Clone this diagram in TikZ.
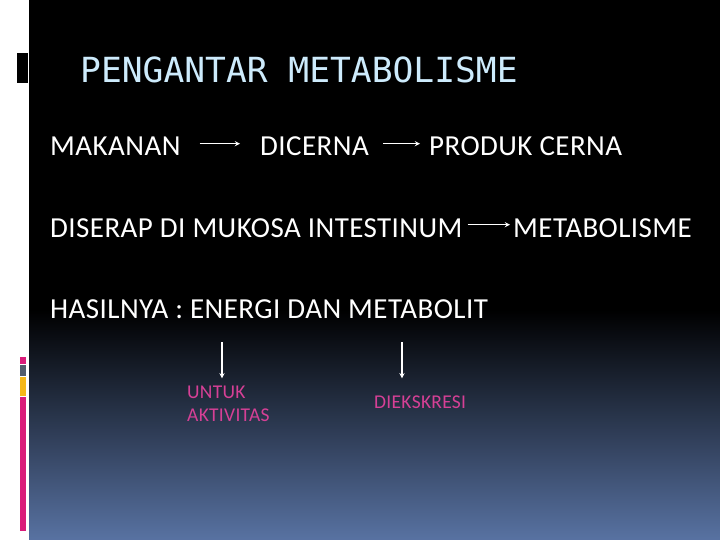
\documentclass[tikz,border=0pt]{standalone}
\usepackage{fontspec}
\setmainfont{Carlito}
\newfontfamily\bodyfont[LetterSpace=1.5]{Carlito}
\newfontfamily\titlefont{DejaVu Sans Mono}
\usetikzlibrary{calc}

\definecolor{slideblue}{RGB}{88,114,162}
\definecolor{titleblue}{RGB}{205,235,252}
\definecolor{barpink}{RGB}{218,28,122}
\definecolor{bargrey}{RGB}{82,92,108}
\definecolor{baryellow}{RGB}{246,184,24}
\definecolor{textpink}{RGB}{214,64,150}

\tikzset{
    word/.style={anchor=base west,inner sep=0pt,text=white,font=\bodyfont\fontsize{29}{34}\selectfont},
    small/.style={anchor=base west,inner sep=0pt,text=textpink,font=\bodyfont\fontsize{19.5}{23}\selectfont},
    arr/.style={white,line width=1.3pt,->,>=stealth}
}

\begin{document}
\begin{tikzpicture}[x=1pt,y=-1pt]
    \useasboundingbox (0,0) rectangle (720,540);
    \fill[white] (0,0) rectangle (29,540);
    \fill[black] (29,0) rectangle (720,310);
    \shade[top color=black,bottom color=slideblue] (29,310) rectangle (720,540);

    \fill[black] (17,53) rectangle (28,83);
    \fill[barpink] (20,357) rectangle (26,364);
    \fill[bargrey] (20,365) rectangle (26,376);
    \fill[baryellow] (20,377) rectangle (26,396);
    \fill[barpink] (20,397) rectangle (26,531);

    \node[anchor=base west,inner sep=0pt,text=titleblue,font=\titlefont\fontsize{34.6}{40}\selectfont] (title) at (80,83) {PENGANTAR METABOLISME};

    \node[word] (makanan) at (50,156) {MAKANAN};
    \node[word] (dicerna) at (260,156) {DICERNA};
    \node[word] (produk) at (429,156) {PRODUK CERNA};

    \node[word] (diserap) at (50,237) {DISERAP DI MUKOSA INTESTINUM};
    \node[word] (metab) at (513,237) {METABOLISME};

    \node[word] (hasil) at (50,318) {HASILNYA : ENERGI DAN METABOLIT};

    \node[small] (untuk) at (187,398) {UNTUK};
    \node[small] (aktiv) at (187,421) {AKTIVITAS};
    \node[small] (ekskresi) at (374,408) {DIEKSKRESI};

    \draw[arr,shorten <=19pt,shorten >=20pt] (makanan.east) ++(0,-3) coordinate (m1) (m1) -- (m1 -| dicerna.west);
    \draw[arr,shorten <=14pt,shorten >=9pt] (dicerna.east) ++(0,-3) coordinate (d1) (d1) -- (d1 -| produk.west);
    \draw[arr,shorten <=5pt,shorten >=3pt] (diserap.east) ++(0,-3) coordinate (s1) (s1) -- (s1 -| metab.west);

    \coordinate (u0) at (222,342);
    \coordinate (e0) at (402,342);
    \draw[arr] (u0) -- ($(u0 |- untuk.north)+(0,-7)$);
    \draw[arr] (e0) -- ($(e0 |- untuk.north)+(0,-7)$);
\end{tikzpicture}
\end{document}
